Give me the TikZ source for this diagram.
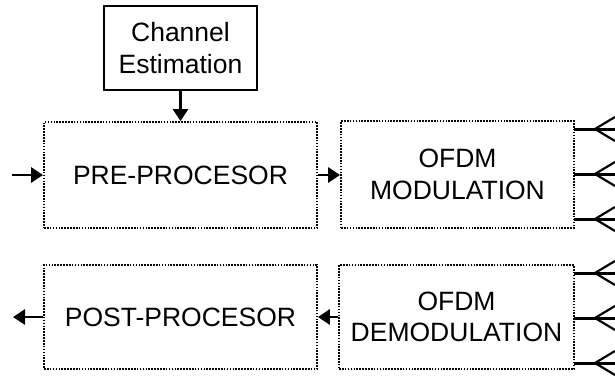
\documentclass[tikz,border=0pt]{standalone}
\usepackage{fontspec}
\setmainfont{Liberation Sans}
\usetikzlibrary{arrows.meta}
\begin{document}
\begin{tikzpicture}[x=1pt,y=-1pt,
  font=\fontsize{26.5}{31.5}\selectfont,
  blockbox/.style={draw, line width=1.8pt, dash pattern=on 1.6pt off 1.3pt,
    inner sep=0pt, align=center},
  solidbox/.style={draw, line width=2.2pt, inner sep=0pt, align=center},
  arr/.style={line width=2.8pt, -{Triangle[length=12pt,width=15pt]}},
  antline/.style={line width=3pt},
  antarm/.style={line width=2.2pt}]
\useasboundingbox (0,0) rectangle (615,381);

% processing blocks
\node[solidbox, minimum width=153pt, minimum height=84pt] (chan) at (180.5,48) {Channel\\Estimation};
\node[blockbox, minimum width=273pt, minimum height=106pt] (pre) at (180.5,175) {PRE-PROCESOR};
\node[blockbox, minimum width=233pt, minimum height=107pt] (mod) at (457.5,174.5) {OFDM\\MODULATION};
\node[blockbox, minimum width=273pt, minimum height=104pt] (post) at (180.5,317) {POST-PROCESOR};
\node[blockbox, minimum width=235pt, minimum height=104pt] (demod) at (456.5,317) {OFDM\\DEMODULATION};

% signal flow
\coordinate (in) at (12,175);
\coordinate (out) at (13,317);
\draw[arr] (chan.south) -- (pre.north);
\draw[arr] (in) -- (pre.west);
\draw[arr] (pre.east) -- (pre.east -| mod.west);
\draw[arr] (demod.west) -- (demod.west -| post.east);
\draw[arr] (post.west) -- (out);

% antenna elements
\foreach \y [count=\i] in {129,174,219,273,318,363} {
  \coordinate (ant\i) at (574,\y);
  \coordinate (tip\i) at (595,\y);
  \coordinate (end\i) at (615,\y);
  \coordinate (up\i) at (615,\y-12);
  \coordinate (dn\i) at (615,\y+12);
  \draw[antline] (ant\i) -- (end\i);
  \draw[antarm] (up\i) -- (tip\i) -- (dn\i);
}
\end{tikzpicture}
\end{document}
